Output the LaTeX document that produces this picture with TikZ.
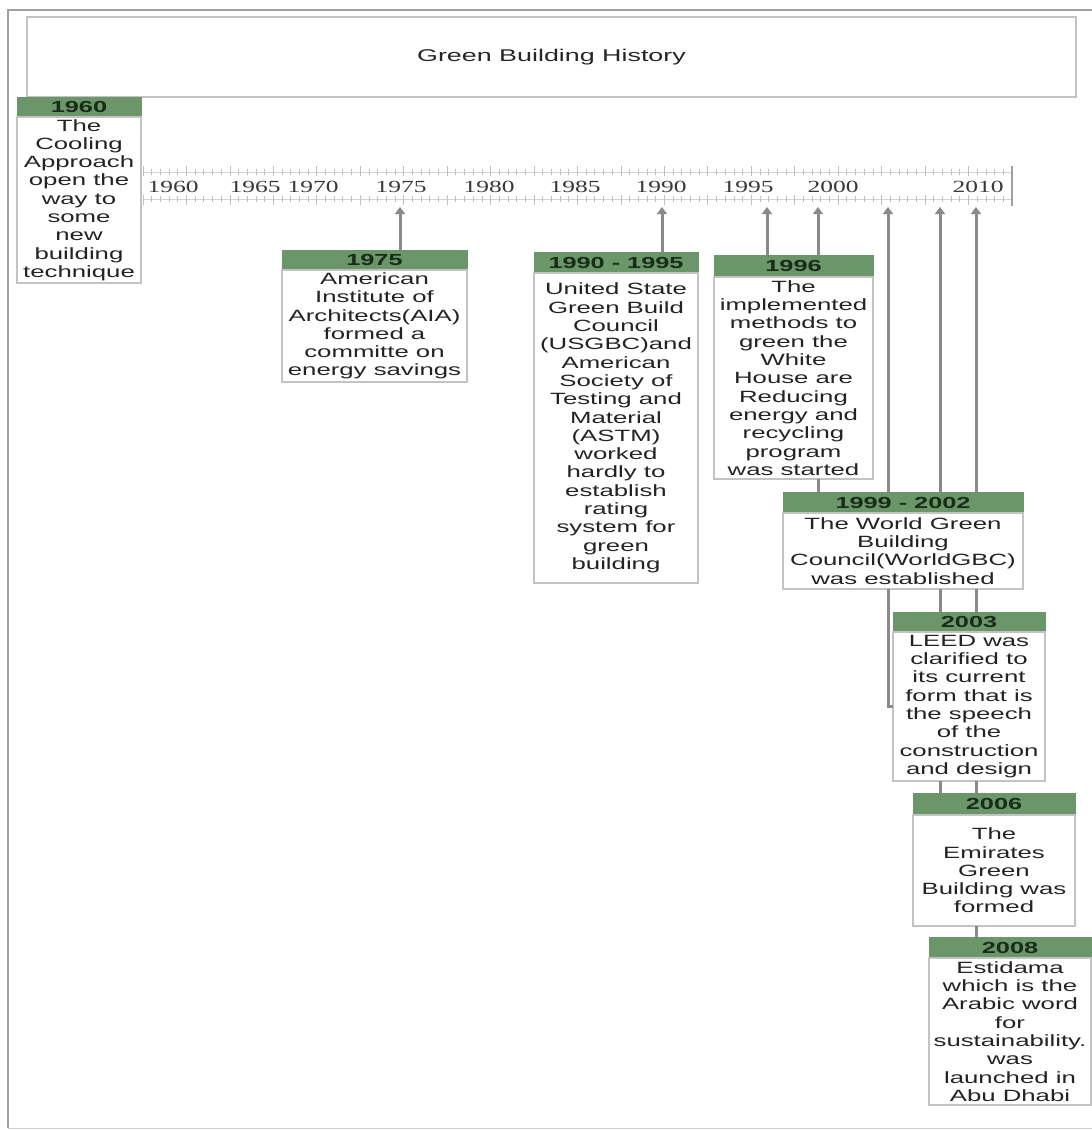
\documentclass[tikz,border=0pt]{standalone}
\usepackage{fontspec}
\setmainfont{Liberation Sans}[FakeStretch=1.58]
\newfontfamily\yearfont{Liberation Serif}[FakeStretch=1.5]
\usetikzlibrary{arrows.meta,calc}
\definecolor{hdrgreen}{RGB}{106,150,106}
\definecolor{hdrtext}{RGB}{24,44,24}
\definecolor{bodytext}{RGB}{35,35,35}
\definecolor{boxline}{RGB}{195,195,195}
\definecolor{connline}{RGB}{138,138,138}
\definecolor{frameline}{RGB}{160,160,160}
\definecolor{tickline}{RGB}{192,192,192}
\begin{document}
\begin{tikzpicture}[x=1pt,y=-1pt,
  hdr/.style={fill=hdrgreen, draw=hdrgreen, inner sep=0pt, outer sep=0pt, anchor=north west, text=hdrtext, font=\fontsize{16}{18}\selectfont\bfseries},
  bdy/.style={draw=boxline, line width=1.2pt, fill=white, inner sep=0pt, outer sep=0pt, anchor=north west, align=center, text=bodytext, font=\fontsize{16.3}{18.3}\selectfont},
  conn/.style={draw=connline, line width=3pt},
  arr/.style={conn, -{Triangle[width=10pt,length=7pt]}},
  yr/.style={font=\yearfont\fontsize{17}{18}\selectfont, text=black!78, inner sep=0pt},
  tickmark/.style={draw=tickline, line width=0.8pt}
]
\useasboundingbox (0,0) rectangle (1092,1130);

% outer frame
\draw[frameline, line width=1.5pt] (1092,10) -- (8,10) -- (8,1128);
\draw[frameline!50, line width=1pt] (8,1128) -- (1092,1128);

% title
\node[draw=boxline, line width=1.2pt, inner sep=0pt, outer sep=0pt, anchor=north west,
      minimum width=1049pt, minimum height=80pt, text=black!85,
      font=\fontsize{17}{20}\selectfont] (title) at (27,17) {Green Building History};

% ruler
\draw[tickmark, draw=tickline!70] (143,172) -- (1012,172);
\draw[tickmark, draw=tickline!70] (143,199) -- (1012,199);
\foreach \i in {0,...,100}{
  \pgfmathsetmacro\xx{143+8.69*\i}
  \pgfmathtruncatemacro\mm{mod(\i,5)}
  \ifnum\mm=0
    \draw[tickmark] (\xx,166) -- (\xx,176);
    \draw[tickmark] (\xx,195) -- (\xx,205);
  \else
    \draw[tickmark] (\xx,169) -- (\xx,175);
    \draw[tickmark] (\xx,196) -- (\xx,202);
  \fi
}
\draw[frameline, line width=1.2pt] (1012,166) -- (1012,206);

\node[yr] (y1960) at (173,187) {1960};
\node[yr] (y1965) at (255,187) {1965};
\node[yr] (y1970) at (313,187) {1970};
\node[yr] (y1975) at (401,187) {1975};
\node[yr] (y1980) at (489,187) {1980};
\node[yr] (y1985) at (575,187) {1985};
\node[yr] (y1990) at (661,187) {1990};
\node[yr] (y1995) at (748,187) {1995};
\node[yr] (y2000) at (833,187) {2000};
\node[yr] (y2010) at (978,187) {2010};

% tick coordinates on the axis
\coordinate (t75) at (400,207);
\coordinate (t90) at (662,207);
\coordinate (t95) at (767,207);
\coordinate (t99) at (818,207);
\coordinate (t03) at (888,207);
\coordinate (t06) at (940,207);
\coordinate (t08) at (976,207);

% event boxes
\node[hdr, minimum width=124pt, minimum height=20pt] (h1960) at (17,97) {1960};
\node[bdy, minimum width=124pt, minimum height=166pt] (b1960) at (h1960.south west)
  {The\\Cooling\\Approach\\open the\\way to\\some\\new\\building\\technique};

\node[hdr, minimum width=185pt, minimum height=20pt] (h1975) at (282,250) {1975};
\node[bdy, minimum width=185pt, minimum height=112pt] (b1975) at (h1975.south west)
  {American\\Institute of\\Architects(AIA)\\formed a\\committe on\\energy savings};

\node[hdr, minimum width=164pt, minimum height=21pt] (h1990) at (534,252) {1990 - 1995};
\node[bdy, minimum width=164pt, minimum height=310pt] (b1990) at (h1990.south west)
  {United State\\Green Build\\Council\\(USGBC)and\\American\\Society of\\Testing and\\Material\\(ASTM)\\worked\\hardly to\\establish\\rating\\system for\\green\\building};

\node[hdr, minimum width=159pt, minimum height=22pt] (h1996) at (714,255) {1996};
\node[bdy, minimum width=159pt, minimum height=202pt] (b1996) at (h1996.south west)
  {The\\implemented\\methods to\\green the\\White\\House are\\Reducing\\energy and\\recycling\\program\\was started};

\node[hdr, minimum width=240pt, minimum height=21pt] (h1999) at (783,492) {1999 - 2002};
\node[bdy, minimum width=240pt, minimum height=76pt] (b1999) at (h1999.south west)
  {The World Green\\Building\\Council(WorldGBC)\\was established};

\node[hdr, minimum width=152pt, minimum height=20pt] (h2003) at (893,612) {2003};
\node[bdy, minimum width=152pt, minimum height=149pt] (b2003) at (h2003.south west)
  {LEED was\\clarified to\\its current\\form that is\\the speech\\of the\\construction\\and design};

\node[hdr, minimum width=162pt, minimum height=22pt] (h2006) at (913,793) {2006};
\node[bdy, minimum width=162pt, minimum height=111pt] (b2006) at (h2006.south west)
  {The\\Emirates\\Green\\Building was\\formed};

\node[hdr, minimum width=162pt, minimum height=21pt] (h2008) at (929,937) {2008};
\node[bdy, minimum width=162pt, minimum height=147pt] (b2008) at (h2008.south west)
  {Estidama\\which is the\\Arabic word\\for\\sustainability.\\was\\launched in\\Abu Dhabi};

% connectors to the axis
\draw[arr] (t75 |- h1975.north) -- (t75);
\draw[arr] (t90 |- h1990.north) -- (t90);
\draw[arr] (t95 |- h1996.north) -- (t95);
\draw[arr] (t99 |- h1996.north) -- (t99);
\draw[arr] (t03 |- h1999.north) -- (t03);
\draw[arr] (t06 |- h1999.north) -- (t06);
\draw[arr] (t08 |- h1999.north) -- (t08);

% connectors between stacked boxes
\draw[conn] (t99 |- b1996.south) -- (t99 |- h1999.north);
\draw[conn] (t03 |- b1999.south) |- (b2003.west);
\draw[conn] (t06 |- b1999.south) -- (t06 |- h2003.north);
\draw[conn] (t08 |- b1999.south) -- (t08 |- h2003.north);
\draw[conn] (t06 |- b2003.south) -- (t06 |- h2006.north);
\draw[conn] (t08 |- b2003.south) -- (t08 |- h2006.north);
\draw[conn] (t08 |- b2006.south) -- (t08 |- h2008.north);
\end{tikzpicture}
\end{document}
